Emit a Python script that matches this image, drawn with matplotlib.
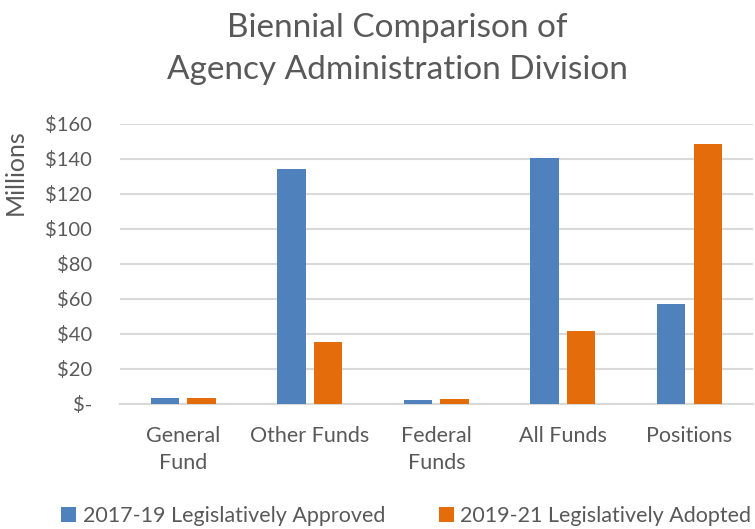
import numpy as np
import matplotlib.pyplot as plt
from matplotlib.ticker import FuncFormatter

plt.rcParams['font.family'] = ['Lato', 'DejaVu Sans']

categories = ['General\nFund', 'Other Funds', 'Federal\nFunds', 'All Funds', 'Positions']
approved_1719 = [3.5, 134.5, 2.5, 140.7, 57.3]
adopted_1921 = [3.2, 35.6, 2.7, 41.7, 148.7]
series_names = ['2017-19 Legislatively Approved', '2019-21 Legislatively Adopted']

blue = '#4F81BD'
orange = '#E46C0A'
grey = '#595959'

fig = plt.figure(figsize=(7.55, 5.29), dpi=100)
ax = fig.add_axes([0.159, 0.2363, 0.838, 0.5293])

x = np.arange(len(categories))
w = 0.225
off = w / 2 + 0.032
b1 = ax.bar(x - off, approved_1719, w, color=blue, label=series_names[0], zorder=3)
b2 = ax.bar(x + off, adopted_1921, w, color=orange, label=series_names[1], zorder=3)

ax.set_xlim(-0.5, 4.5)
ax.set_ylim(0, 160)
ax.set_yticks(np.arange(0, 161, 20))
ax.yaxis.set_major_formatter(FuncFormatter(lambda v, p: '$-' if v == 0 else f'${v:.0f}'))
ax.set_xticks(x)
ax.set_xticklabels(categories, fontsize=15.5, linespacing=1.45)

ax.grid(axis='y', color='#D9D9D9', linewidth=1.5, zorder=0)
for s in ['top', 'right', 'left']:
    ax.spines[s].set_visible(False)
ax.spines['bottom'].set_color('#D9D9D9')
ax.spines['bottom'].set_linewidth(1.5)
ax.tick_params(axis='both', length=0, colors=grey)
ax.tick_params(axis='y', pad=20, labelsize=14.5)
ax.tick_params(axis='x', pad=16)

fig.text(0.0205, 0.675, 'Millions', rotation=90, ha='center', va='center',
         fontsize=18, color=grey)

fig.text(0.526, 0.948, 'Biennial Comparison of', ha='center', va='center',
         fontsize=24, color=grey)
fig.text(0.526, 0.868, 'Agency Administration Division', ha='center', va='center',
         fontsize=24, color=grey)

fig.legend(handles=[b1, b2], labels=series_names, loc='center',
           bbox_to_anchor=(0.538, 0.024), ncol=2, frameon=False, fontsize=15.5,
           labelcolor=grey, handlelength=0.7, handleheight=0.7,
           handletextpad=0.3, columnspacing=2.5)

fig.savefig('out.png', dpi=100)
